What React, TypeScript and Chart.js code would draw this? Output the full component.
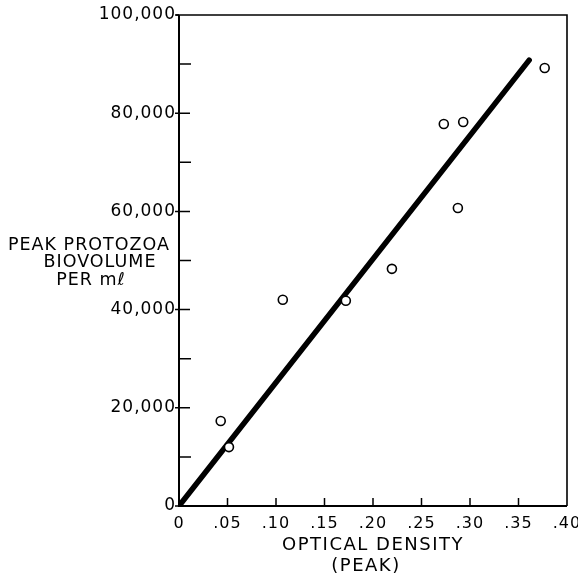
import React, { useEffect, useRef } from 'react';
import { Chart, registerables } from 'chart.js';

Chart.register(...registerables);

// ---- data ----
const odValues = [0.043, 0.0515, 0.107, 0.172, 0.2195, 0.273, 0.293, 0.2875, 0.377];
const biovolumeValues = [17300, 12000, 42000, 41800, 48300, 77800, 78200, 60700, 89200];
const fitX = [0, 0.361];
const fitY = [0, 90800];
const xTickValues = [0, 0.05, 0.1, 0.15, 0.2, 0.25, 0.3, 0.35, 0.4];
const xTickLabels = ['0', '.05', '.10', '.15', '.20', '.25', '.30', '.35', '.40'];
const yTickValues = [0, 20000, 40000, 60000, 80000, 100000];
const yTickLabels = ['0', '20,000', '40,000', '60,000', '80,000', '100,000'];
const yMinorTickValues = [10000, 30000, 50000, 70000, 90000];
const xTitleLines = ['OPTICAL DENSITY', '(PEAK)'];
const yTitleLines = ['PEAK PROTOZOA', 'BIOVOLUME', 'PER m\u2113'];

const FONT = '"DejaVu Sans", "Liberation Sans", sans-serif';

const framePlugin = {
  id: 'frameTicks',
  beforeDraw(chart: any) {
    chart.ctx.letterSpacing = '1px';
  },
  beforeDatasetsDraw(chart: any) {
    const { ctx, chartArea } = chart;
    const { left, right, top, bottom } = chartArea;
    const xs = chart.scales.x;
    const ys = chart.scales.y;
    ctx.save();
    ctx.strokeStyle = '#000';
    ctx.lineCap = 'butt';
    ctx.lineWidth = 2;
    ctx.beginPath();
    ctx.moveTo(left, top);
    ctx.lineTo(left, bottom);
    ctx.lineTo(right, bottom);
    ctx.stroke();
    ctx.lineWidth = 1.6;
    ctx.beginPath();
    ctx.moveTo(left - 3, top);
    ctx.lineTo(right, top);
    ctx.lineTo(right, bottom);
    ctx.stroke();
    ctx.lineWidth = 1.5;
    ctx.beginPath();
    yTickValues.forEach((v, i) => {
      const py = ys.getPixelForValue(v);
      const inner = i === 0 || i === yTickValues.length - 1 ? 0 : 11;
      ctx.moveTo(left - 4, py);
      ctx.lineTo(left + inner, py);
    });
    yMinorTickValues.forEach((v) => {
      const py = ys.getPixelForValue(v);
      ctx.moveTo(left, py);
      ctx.lineTo(left + 12, py);
    });
    xTickValues.forEach((v, i) => {
      if (i === 0 || i === xTickValues.length - 1) return;
      const px = xs.getPixelForValue(v);
      ctx.moveTo(px, bottom);
      ctx.lineTo(px, bottom - 8);
    });
    ctx.stroke();
    ctx.restore();
  },
  afterDraw(chart: any) {
    const { ctx } = chart;
    ctx.save();
    ctx.fillStyle = '#000';
    ctx.textAlign = 'center';
    ctx.textBaseline = 'middle';
    ctx.letterSpacing = '1.5px';
    ctx.font = `18px ${FONT}`;
    ctx.fillText(xTitleLines[0], 373, 545);
    ctx.fillText(xTitleLines[1], 366, 566);
    ctx.letterSpacing = '1px';
    ctx.font = `17.5px ${FONT}`;
    ctx.fillText(yTitleLines[0], 89, 245);
    ctx.fillText(yTitleLines[1], 100, 262);
    ctx.fillText(yTitleLines[2], 91, 280);
    ctx.restore();
  },
};

export default function App() {
  const ref = useRef<HTMLCanvasElement | null>(null);
  useEffect(() => {
    if (!ref.current) return;
    const chart = new Chart(ref.current, {
      type: 'scatter',
      data: {
        datasets: [
          {
            label: 'Observed',
            data: odValues.map((x, i) => ({ x, y: biovolumeValues[i] })),
            pointStyle: 'circle',
            pointRadius: 4.5,
            pointBorderWidth: 1.6,
            pointBorderColor: '#000',
            pointBackgroundColor: '#fff',
            showLine: false,
          },
          {
            label: 'Fit',
            data: fitX.map((x, i) => ({ x, y: fitY[i] })),
            showLine: true,
            borderColor: '#000',
            borderWidth: 5.5,
            borderCapStyle: 'round',
            pointRadius: 0,
          },
        ],
      } as any,
      options: {
        responsive: false,
        animation: false,
        devicePixelRatio: 1,
        layout: { padding: { left: 0, right: 11, top: 15, bottom: 0 } },
        plugins: { legend: { display: false }, tooltip: { enabled: false }, title: { display: false } },
        events: [],
        scales: {
          x: {
            type: 'linear',
            min: 0,
            max: 0.4,
            grid: { display: false, drawTicks: false },
            border: { display: false },
            afterBuildTicks: (scale: any) => {
              scale.ticks = xTickValues.map((v) => ({ value: v }));
            },
            afterFit: (scale: any) => {
              scale.height = 73;
              scale.paddingLeft = 0;
              scale.paddingRight = 0;
            },
            ticks: {
              autoSkip: false,
              maxRotation: 0,
              padding: 8,
              color: '#000',
              font: { family: FONT, size: 16 },
              callback: (_v: any, i: number) => xTickLabels[i],
            },
          },
          y: {
            type: 'linear',
            min: 0,
            max: 100000,
            grid: { display: false, drawTicks: false },
            border: { display: false },
            afterBuildTicks: (scale: any) => {
              scale.ticks = yTickValues.map((v) => ({ value: v }));
            },
            afterFit: (scale: any) => {
              scale.width = 179;
              scale.paddingTop = 0;
              scale.paddingBottom = 0;
            },
            ticks: {
              autoSkip: false,
              padding: 3,
              color: '#000',
              font: { family: FONT, size: 17 },
              callback: (_v: any, i: number) => yTickLabels[i],
            },
          },
        },
      } as any,
      plugins: [framePlugin],
    });
    return () => chart.destroy();
  }, []);
  return (
    <div style={{ position: 'absolute', left: 0, top: 0, width: 578, height: 579, background: '#fff' }}>
      <canvas ref={ref} width={578} height={579} style={{ display: 'block' }} />
    </div>
  );
}
